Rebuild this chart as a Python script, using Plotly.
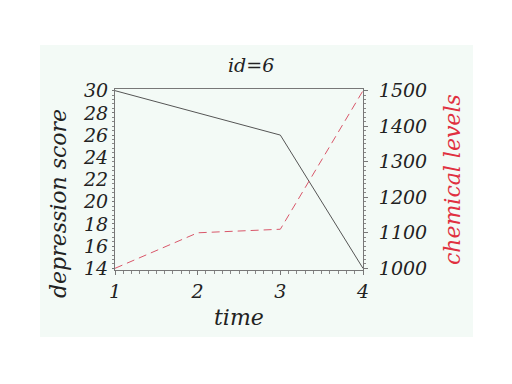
import plotly.graph_objects as go

time = [1, 2, 3, 4]
depression = [30, 28, 26, 14]
chemical = [1000, 1100, 1110, 1500]
x_ticks = [1, 2, 3, 4]
y_ticks = [14, 16, 18, 20, 22, 24, 26, 28, 30]
y2_ticks = [1000, 1100, 1200, 1300, 1400, 1500]

W, H = 512, 384
L, R, T, B = 115, 363, 89, 270
font = "DejaVu Serif"
fs = 19
tfs = 22

fig = go.Figure()
fig.add_trace(go.Scatter(x=time, y=depression, mode="lines",
                         line=dict(color="#555555", width=1), yaxis="y"))
fig.add_trace(go.Scatter(x=time, y=chemical, mode="lines",
                         line=dict(color="#d9576a", width=1, dash="8px,5px"), yaxis="y2"))

tickfont = dict(family=font, size=fs, color="#222222")
def px(x):
    return (x - L) / (R - L)
def py(y):
    return (B - y) / (B - T)

fig.update_layout(
    width=W, height=H,
    margin=dict(l=L, r=W - R, t=T, b=H - B),
    paper_bgcolor="white", plot_bgcolor="rgba(0,0,0,0)",
    showlegend=False,
    xaxis=dict(range=[1, 4], tickvals=x_ticks, ticktext=[f"<i>{v}</i>" for v in x_ticks],
               tickfont=tickfont, showgrid=False, zeroline=False,
               showline=True, linecolor="#777777", linewidth=1, mirror=True,
               ticks="outside", ticklen=4, tickcolor="#777777", ticklabelstandoff=0,
               minor=dict(dtick=0.1, ticks="outside", ticklen=3, tickcolor="#888888"),
               fixedrange=True),
    yaxis=dict(range=[13.85, 30.15], tickvals=y_ticks, ticktext=[f"<i>{v}</i>" for v in y_ticks],
               tickfont=tickfont, showgrid=False, zeroline=False,
               showline=True, linecolor="#777777", linewidth=1,
               ticks="outside", ticklen=2, tickcolor="#777777", ticklabelstandoff=0,
               minor=dict(dtick=0.4, ticks="outside", ticklen=2, tickcolor="#888888"),
               fixedrange=True),
    yaxis2=dict(range=[995.3, 1504.7], tickvals=y2_ticks, ticktext=[f"<i>{v}</i>" for v in y2_ticks],
                overlaying="y", side="right",
                tickfont=tickfont, showgrid=False, zeroline=False,
                showline=True, linecolor="#777777", linewidth=1,
                ticks="outside", ticklen=4, tickcolor="#777777", ticklabelstandoff=7,
                minor=dict(dtick=12.5, ticks="outside", ticklen=2, tickcolor="#888888"),
                fixedrange=True),
    shapes=[dict(type="rect", xref="paper", yref="paper", layer="below",
                 x0=px(40), x1=px(473), y0=py(337), y1=py(45),
                 fillcolor="#f3faf6", line=dict(width=0))],
    annotations=[
        dict(text="<i>id=6</i>", xref="paper", yref="paper",
             x=px(251), y=py(65), xanchor="center", yanchor="middle", showarrow=False,
             font=dict(family=font, size=19, color="#222222")),
        dict(text="<i>time</i>", xref="paper", yref="paper",
             x=px(239), y=py(317), xanchor="center", yanchor="middle", showarrow=False,
             font=dict(family=font, size=tfs, color="#222222")),
        dict(text="<i>depression score</i>", xref="paper", yref="paper",
             x=px(58), y=py(204), xanchor="center", yanchor="middle", showarrow=False, textangle=-90,
             font=dict(family=font, size=tfs, color="#222222")),
        dict(text="<i>chemical levels</i>", xref="paper", yref="paper",
             x=px(452), y=py(180), xanchor="center", yanchor="middle", showarrow=False, textangle=-90,
             font=dict(family=font, size=tfs, color="#e03040")),
    ],
)
fig.write_html("out.html")
